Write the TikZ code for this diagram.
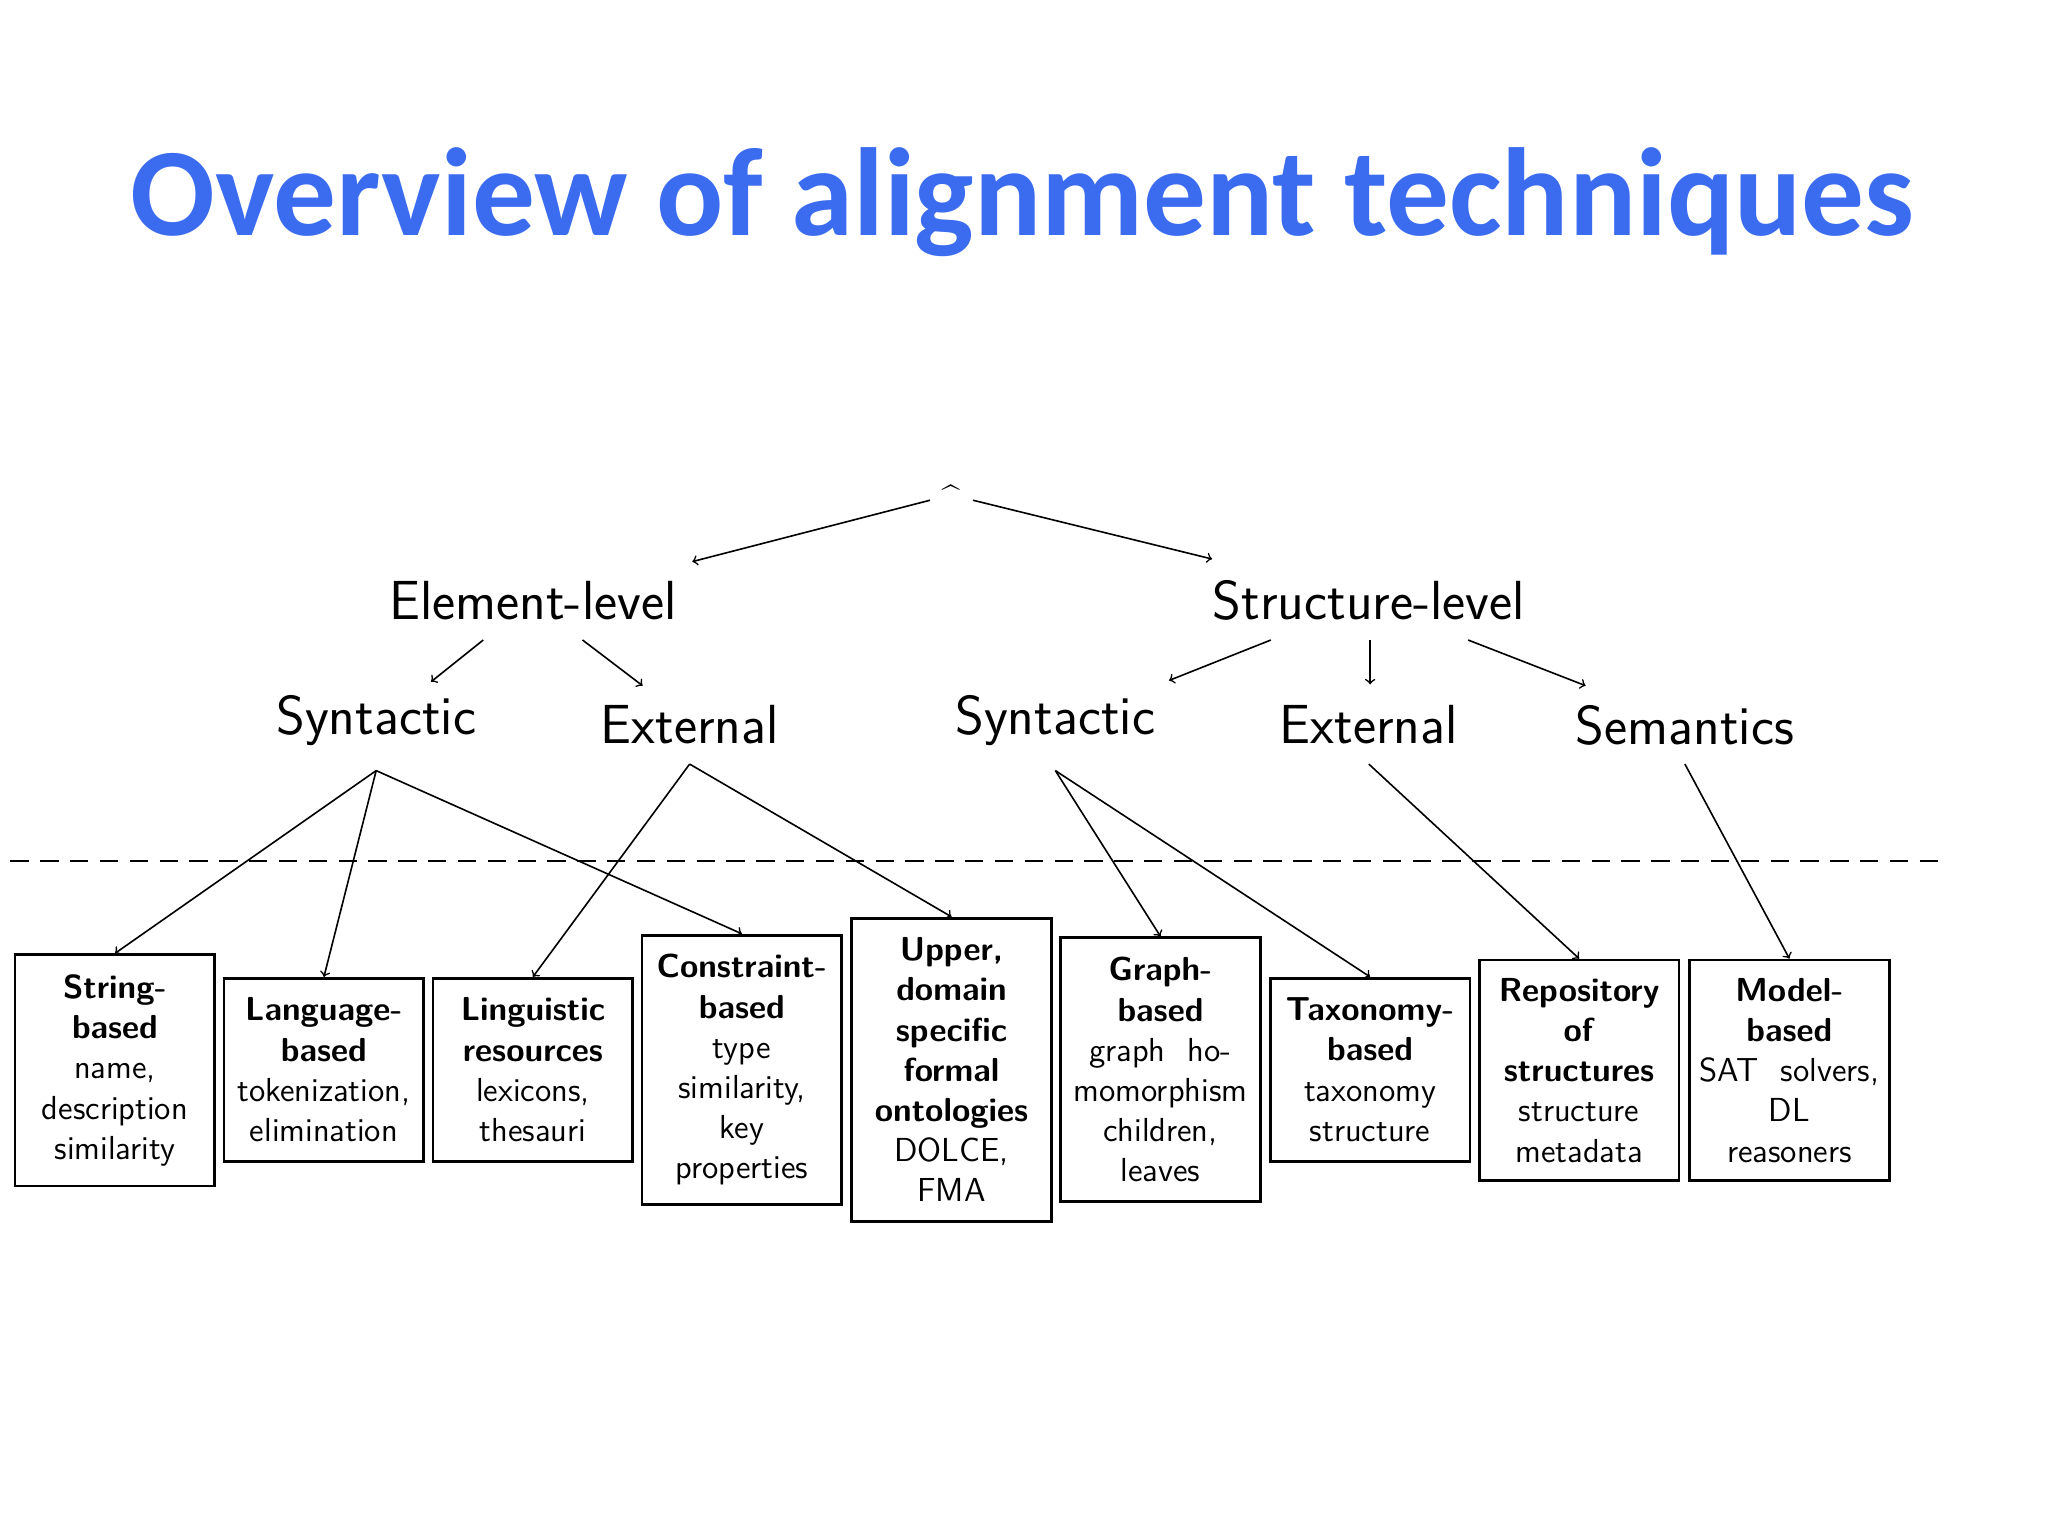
\documentclass[tikz,border=0pt]{standalone}
\usepackage{fontspec}
\newfontfamily\titlefont{Carlito}
\begin{document}
\begin{tikzpicture}[x=0.02cm,y=-0.02cm,
  lvl/.style={font=\sffamily\fontsize{24}{28}\selectfont,inner sep=2pt},
  bx/.style={draw,line width=1.2pt,font=\sffamily\fontsize{14.5}{17.5}\selectfont,align=center,text width=3.02cm,inner sep=0pt,minimum width=3.06cm},
  arr/.style={->,>=to,line width=0.7pt}]
\useasboundingbox (0,0) rectangle (1568,1176);
\node[font=\titlefont\bfseries\fontsize{54.6}{64}\selectfont,color={rgb,255:red,59;green,108;blue,240}] (title) at (783,155) {Overview of alignment techniques};
\node[font=\sffamily\fontsize{14}{14}\selectfont,inner sep=1pt] (root) at (728,380) {\^{}};
\node[lvl] (el) at (408,460) {Element-level};
\node[lvl] (sl) at (1048,460) {Structure-level};
\node[lvl] (s1) at (288,552) {Syntactic};
\node[lvl] (e1) at (528,555) {External};
\node[lvl] (s2) at (808,552) {Syntactic};
\node[lvl] (e2) at (1048,555) {External};
\node[lvl] (sem) at (1290,555) {Semantics};
\draw[arr] (712,383) -- (530,430);
\draw[arr] (745,383) -- (928,428);
\draw[arr] (370,490) -- (330,522);
\draw[arr] (446,490) -- (492,525);
\draw[arr] (973,490) -- (895,521);
\draw[arr] (1049,490) -- (1049,524);
\draw[arr] (1124,490) -- (1214,525);
\draw[dash pattern=on 8pt off 5pt,line width=0.8pt] (8,659) -- (1490,659);
\node[bx,minimum height=177*0.02cm] (b1) at (88,819.5) {\textbf{String-}\\\textbf{based}\\name,\\description\\similarity};
\node[bx,minimum height=140*0.02cm] (b2) at (248,819) {\textbf{Language-}\\\textbf{based}\\tokenization,\\elimination};
\node[bx,minimum height=140*0.02cm] (b3) at (408,819) {\textbf{Linguistic}\\\textbf{resources}\\lexicons,\\thesauri};
\node[bx,minimum height=206*0.02cm] (b4) at (568,819) {\textbf{Constraint-}\\\textbf{based}\\type\\similarity,\\key\\properties};
\node[bx,minimum height=232*0.02cm] (b5) at (728.5,819) {\textbf{Upper,}\\\textbf{domain}\\\textbf{specific}\\\textbf{formal}\\\textbf{ontologies}\\DOLCE,\\FMA};
\node[bx,minimum height=202*0.02cm] (b6) at (888.5,819) {\textbf{Graph-}\\\textbf{based}\\graph\ \ ho-\\momorphism\\children,\\leaves};
\node[bx,minimum height=140*0.02cm] (b7) at (1049,819) {\textbf{Taxonomy-}\\\textbf{based}\\taxonomy\\structure};
\node[bx,minimum height=169*0.02cm] (b8) at (1209,819.5) {\textbf{Repository}\\\textbf{of}\\\textbf{structures}\\structure\\metadata};
\node[bx,minimum height=169*0.02cm] (b9) at (1370,819.5) {\textbf{Model-}\\\textbf{based}\\SAT\ \ solvers,\\DL\\reasoners};
\coordinate (s1b) at (288,590);
\coordinate (e1b) at (528,585);
\coordinate (s2b) at (808,590);
\coordinate (e2b) at (1048,585);
\coordinate (semb) at (1290,585);
\draw[arr] (s1b) -- (b1.north);
\draw[arr] (s1b) -- (b2.north);
\draw[arr] (s1b) -- (b4.north);
\draw[arr] (e1b) -- (b3.north);
\draw[arr] (e1b) -- (b5.north);
\draw[arr] (s2b) -- (b6.north);
\draw[arr] (s2b) -- (b7.north);
\draw[arr] (e2b) -- (b8.north);
\draw[arr] (semb) -- (b9.north);
\end{tikzpicture}
\end{document}
